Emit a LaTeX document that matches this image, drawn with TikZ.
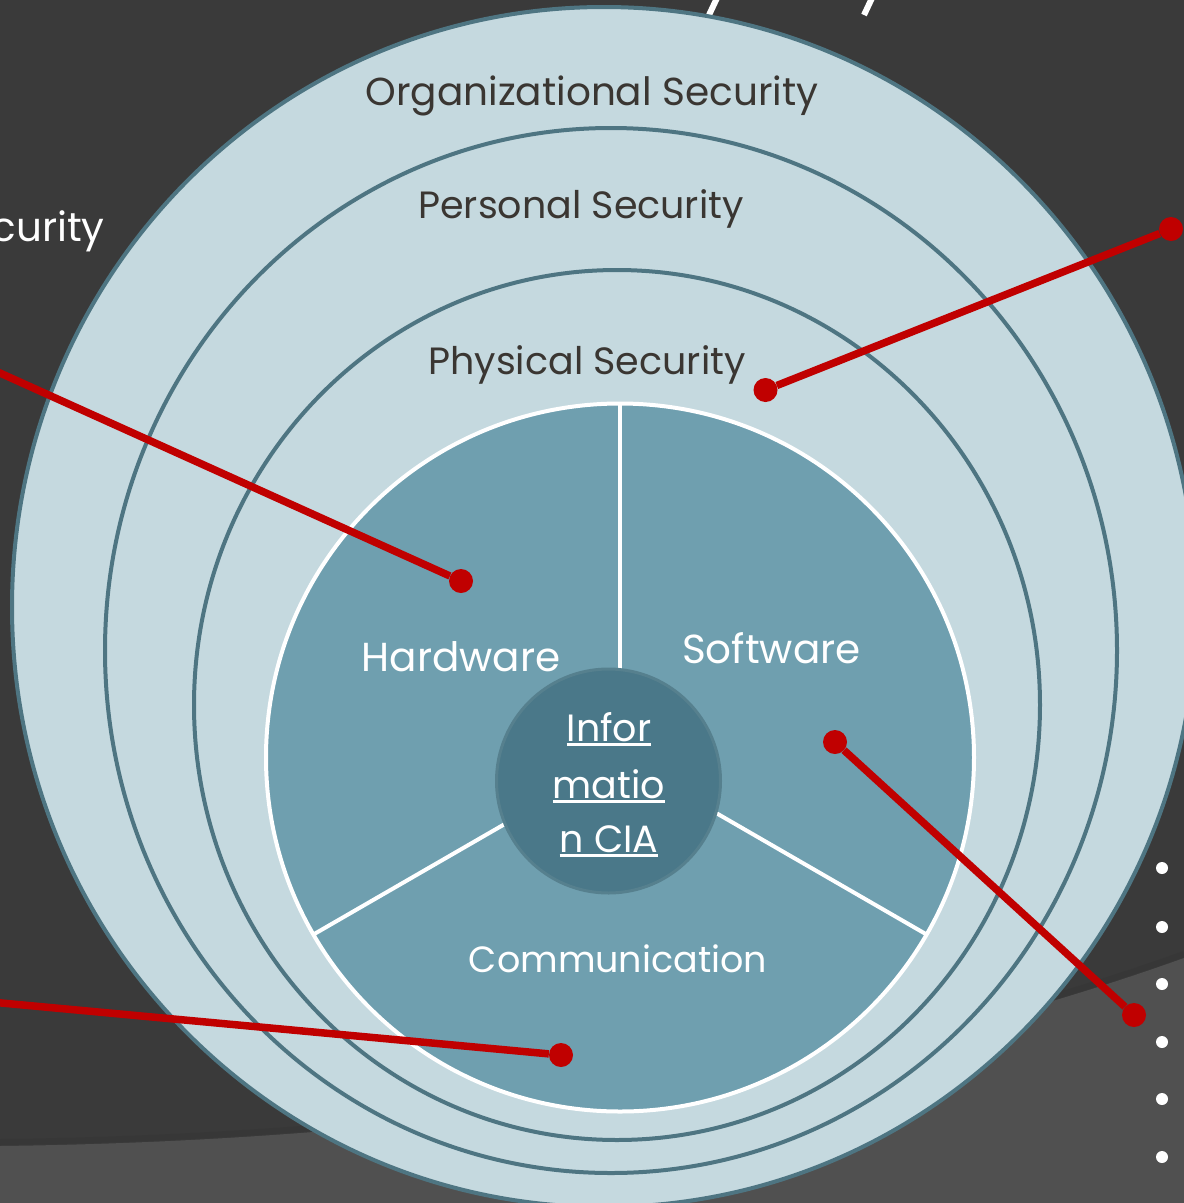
\documentclass[tikz,border=0pt]{standalone}
\usepackage{fontspec}
\setmainfont{Poppins}
\definecolor{bgdark}{HTML}{3A3A3A}
\definecolor{bglight}{HTML}{505050}
\definecolor{ringfill}{HTML}{C5D9DF}
\definecolor{ringline}{HTML}{4E7582}
\definecolor{piefill}{HTML}{6F9FAF}
\definecolor{ciafill}{HTML}{4A7889}
\definecolor{ciaborder}{HTML}{56808E}
\definecolor{ringtext}{HTML}{3A3632}
\definecolor{redline}{HTML}{C00000}
\newcommand{\myul}[1]{{\setbox0\hbox{#1}\leavevmode\rlap{\rule[-5pt]{\wd0}{2.6pt}}\box0}}
\tikzset{
  lblfont/.style={font=\fontsize{38}{46}\selectfont},
  bigfont/.style={font=\fontsize{40.5}{48}\selectfont},
  ringlabel/.style={lblfont, text=ringtext, anchor=base, inner sep=0pt},
  pielabel/.style={lblfont, text=white, anchor=base, inner sep=0pt},
  ring/.style={fill=ringfill, draw=ringline, line width=4pt},
  divider/.style={draw=white, line width=4pt},
  reddot/.style={circle, fill=redline, inner sep=0pt, minimum size=24pt},
  redlink/.style={draw=redline, line width=7.5pt},
  bulletdot/.style={circle, fill=white, inner sep=0pt, minimum size=12pt},
}
\begin{document}
\begin{tikzpicture}[x=1pt,y=-1pt]
\useasboundingbox (0,0) rectangle (1184,1203);
\clip (0,0) rectangle (1184,1203);
% background
\fill[bgdark] (0,0) rectangle (1184,1203);
\draw[black!80, opacity=0.35, line width=6pt] (0,1142) .. controls (500,1136) and (900,1056) .. (1184,954);
\fill[bglight] (0,1146) .. controls (500,1140) and (900,1060) .. (1184,958) -- (1184,1203) -- (0,1203) -- cycle;
% title fragments
\draw[white, line width=6pt] (717,-2) -- (709,15);
\draw[white, line width=6pt] (872,-2) -- (864,15);
% bullets
\foreach \yy [count=\i] in {868,927,984,1042,1099,1157}
  \node[bulletdot] (b\i) at (1162,\yy) {};
% partial text at left
\node[bigfont, text=white, anchor=base east, inner sep=0pt] (secleft) at (105,241) {Security};
% rings
\path[ring] (604,607) ellipse [x radius=592pt, y radius=600pt];
\path[ring] (611,650.5) ellipse [x radius=506pt, y radius=522.5pt];
\path[ring] (617,705) ellipse [x radius=423pt, y radius=435pt];
% pie
\fill[piefill] (620,757.5) circle [radius=354pt];
\coordinate (pc) at (620,757.5);
\coordinate (ptop) at (620,403.5);
\coordinate (pll) at (313.4,934.5);
\coordinate (plr) at (926.6,934.5);
\draw[divider] (pc) -- (ptop);
\draw[divider] (pc) -- (pll);
\draw[divider] (pc) -- (plr);
\draw[white, line width=4pt] (pc) circle [radius=354pt];
% center
\node[circle, minimum size=224pt, inner sep=0pt, fill=ciafill, draw=ciaborder, line width=3pt] (cia) at (608.5,781) {};
\node[pielabel] (l1) at (609,741) {\myul{Infor}};
\node[pielabel] (l2) at (609,798) {\myul{matio}};
\node[pielabel] (l3) at (609,852) {\myul{n CIA}};
% labels
\node[ringlabel, font=\fontsize{39}{46}\selectfont] (org) at (592,105) {Organizational Security};
\node[ringlabel] (pers) at (581,218) {Personal Security};
\node[ringlabel] (phys) at (587,374) {Physical Security};
\node[pielabel, bigfont] (hw) at (461,671) {Hardware};
\node[pielabel, bigfont] (sw) at (771.5,663) {Software};
\node[pielabel, font=\fontsize{36.5}{46}\selectfont] (comm) at (618,972) {Communication};
% red connectors
\node[reddot] (d1a) at (1171,229) {};
\node[reddot] (d1b) at (765.5,390) {};
\draw[redlink] (d1a) -- (d1b);
\coordinate (e2) at (-20,364);
\node[reddot] (d2) at (461,581) {};
\draw[redlink] (e2) -- (d2);
\coordinate (e3) at (-20,1001);
\node[reddot] (d3) at (561,1055) {};
\draw[redlink] (e3) -- (d3);
\node[reddot] (d4a) at (835,742) {};
\node[reddot] (d4b) at (1134,1015) {};
\draw[redlink] (d4a) -- (d4b);
\end{tikzpicture}
\end{document}
